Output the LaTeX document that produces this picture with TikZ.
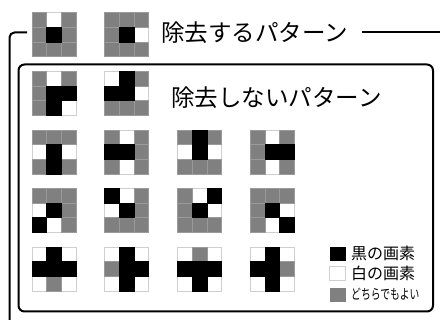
\documentclass[tikz,border=0pt]{standalone}
\usepackage{fontspec}
\newfontfamily\jp{Noto Sans CJK JP}
\definecolor{cellG}{HTML}{808080}
\definecolor{gridc}{HTML}{CFCFCF}
\definecolor{gridG}{HTML}{9A9A9A}
\def\kW{W}
\def\kG{G}
\def\kB{B}
\tikzset{
  frame/.style={line width=2pt, black},
  cellbox/.style={line width=0.7pt},
  title/.style={anchor=west, inner sep=0pt, font=\jp\fontsize{23.5}{28}\selectfont},
  legtext/.style={anchor=west, inner sep=0pt, font=\jp\fontsize{16}{19}\selectfont},
  legsq/.style={minimum width=16pt, minimum height=14pt, inner sep=0pt, line width=0.6pt},
}
\newcommand\cw{14.667}
% #1 x, #2 y (top-left), #3 list of 9 cell colours (G/W/B), row-major from top
\newcommand\drawpat[3]{%
  \foreach \c [count=\i from 0] in {#3} {
    \pgfmathtruncatemacro\cc{mod(\i,3)}
    \pgfmathtruncatemacro\rr{div(\i,3)}
    \ifx\c\kW
      \filldraw[cellbox, draw=gridc, fill=white] ({#1+\cc*\cw},{#2+\rr*\cw}) rectangle ++(\cw,\cw);
    \fi
  }
  \foreach \c [count=\i from 0] in {#3} {
    \pgfmathtruncatemacro\cc{mod(\i,3)}
    \pgfmathtruncatemacro\rr{div(\i,3)}
    \ifx\c\kG
      \filldraw[cellbox, draw=gridG, fill=cellG] ({#1+\cc*\cw},{#2+\rr*\cw}) rectangle ++(\cw,\cw);
    \fi
  }
  \foreach \c [count=\i from 0] in {#3} {
    \pgfmathtruncatemacro\cc{mod(\i,3)}
    \pgfmathtruncatemacro\rr{div(\i,3)}
    \ifx\c\kB
      \filldraw[cellbox, draw=black, fill=black] ({#1+\cc*\cw},{#2+\rr*\cw}) rectangle ++(\cw,\cw);
    \fi
  }
}
\begin{document}
\begin{tikzpicture}[x=1pt,y=-1pt]
\useasboundingbox (0,0) rectangle (440,320);
\begin{scope}
\clip (0,0) rectangle (440,320);
% outer frame
\draw[frame, rounded corners=5pt] (27,32.5) -- (9.5,32.5) -- (9.5,340);
\draw[frame] (362,32.5) -- (450,32.5);
% inner frame
\draw[frame, rounded corners=6pt] (18.5,64.5) rectangle (433,311.5);
\end{scope}

\node[title] (t1) at (161,32.5) {除去するパターン};
\node[title] (t2) at (171,97.5) {除去しないパターン};

% removed patterns
\drawpat{32}{12.7}{G,W,G,G,B,G,G,G,G}
\drawpat{104.8}{12.7}{G,G,G,G,B,W,G,G,G}
% kept patterns
\drawpat{32}{71.3}{G,W,G,G,B,B,G,B,W}
\drawpat{104.8}{71.3}{W,B,G,B,B,W,G,G,G}

\drawpat{32}{129.9}{G,G,G,W,B,W,G,B,G}
\drawpat{104.8}{129.9}{G,W,G,B,B,G,G,W,G}
\drawpat{177.6}{129.9}{G,B,G,W,B,W,G,G,G}
\drawpat{250.4}{129.9}{G,W,G,G,B,B,G,W,G}

\drawpat{32}{188.5}{G,G,G,W,B,G,B,W,G}
\drawpat{104.8}{188.5}{B,W,G,W,B,G,G,G,G}
\drawpat{177.6}{188.5}{G,W,B,G,B,W,G,G,G}
\drawpat{250.4}{188.5}{G,G,G,G,B,W,G,W,B}

\drawpat{32}{247.1}{W,B,W,B,B,B,W,G,W}
\drawpat{104.8}{247.1}{W,B,W,G,B,B,W,B,W}
\drawpat{177.6}{247.1}{W,G,W,B,B,B,W,B,W}
\drawpat{250.4}{247.1}{W,B,W,B,B,G,W,B,W}

% legend
\node[legsq, fill=black] (sqb) at (337.7,253.7) {};
\node[legsq, draw=gridc, fill=white] (sqw) at (337.7,273.4) {};
\node[legsq, fill=cellG] (sqg) at (337.7,294.8) {};
\node[legtext] (lb) at (351,253.7) {黒の画素};
\node[legtext] (lw) at (351,273.5) {白の画素};
\node[legtext] (lg) at (351,294) {\fontsize{14}{17}\selectfont\scalebox{0.7}[1]{どちらでもよい}};
\end{tikzpicture}
\end{document}
